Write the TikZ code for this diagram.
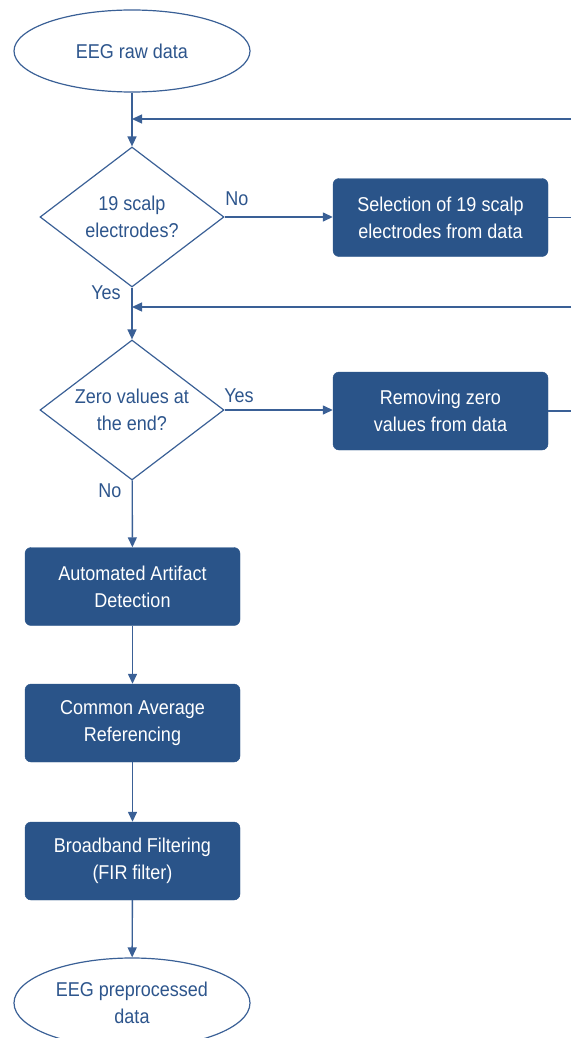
\documentclass[tikz,border=0pt]{standalone}
\usepackage{fontspec}
\setmainfont{Liberation Sans}[FakeStretch=0.9]
\usetikzlibrary{shapes.geometric,arrows.meta}
\definecolor{boxblue}{RGB}{42,84,137}
\definecolor{lineblue}{RGB}{58,96,150}
\definecolor{txtblue}{RGB}{45,85,140}
\begin{document}
\begin{tikzpicture}[x=1pt,y=-1pt,
  every node/.style={font=\fontsize{20}{27}\selectfont},
  term/.style={ellipse,draw=lineblue,line width=1.2pt,minimum width=236pt,minimum height=82pt,inner sep=0pt,align=center,text=txtblue},
  dia/.style={diamond,draw=lineblue,line width=1.2pt,minimum width=184pt,minimum height=140pt,inner sep=0pt},
  dtext/.style={align=center,text=txtblue,inner sep=0pt},
  procbox/.style={rectangle,rounded corners=6pt,fill=boxblue,draw=boxblue,minimum width=215pt,minimum height=78pt,align=center,text=white,inner sep=0pt},
  lbl/.style={text=txtblue,inner sep=0pt},
  conn/.style={draw=lineblue,line width=1.4pt},
  arr/.style={conn,-{Triangle[length=10pt,width=9pt]}}
]
\useasboundingbox (0,0) rectangle (571,1038);
\node[term] (e1) at (132,51) {EEG raw data};
\node[dia] (d1) at (132,217) {};
\node[dtext] at (d1) {19 scalp\\electrodes?};
\node[procbox] (b1) at (440.5,217.5) {Selection of 19 scalp\\electrodes from data};
\node[dia] (d2) at (132,410) {};
\node[dtext] at (d2) {Zero values at\\the end?};
\node[procbox] (b2) at (440.5,411) {Removing zero\\values from data};
\node[procbox] (b3) at (132.5,586.5) {Automated Artifact\\Detection};
\node[procbox] (b4) at (132.5,723) {Common Average\\Referencing};
\node[procbox] (b5) at (132.5,861) {Broadband Filtering\\(FIR filter)};
\node[term,minimum height=90pt] (e2) at (132,1003) {EEG preprocessed\\data};

\coordinate (j1) at (132,119);
\coordinate (j2) at (132,307);
\coordinate (r1) at (571,119);
\coordinate (r2) at (571,307);
\coordinate (q1) at (571,217.5);
\coordinate (q2) at (571,411);

\draw[arr] (e1) -- (d1);
\draw[arr] (r1) -- (j1);
\draw[arr] (d1.east) -- (b1.west |- d1.east);
\draw[conn] (b1.east) -- (q1);
\draw[arr] (d1) -- (d2);
\draw[arr] (r2) -- (j2);
\draw[arr] (d2.east) -- (b2.west |- d2.east);
\draw[conn] (b2.east) -- (q2);
\draw[arr] (d2) -- (b3);
\draw[arr] (b3) -- (b4);
\draw[arr] (b4) -- (b5);
\draw[arr] (b5) -- (e2);

\node[lbl] at (237,199) {No};
\node[lbl] at (106,293) {Yes};
\node[lbl] at (239,396) {Yes};
\node[lbl] at (110,491) {No};
\end{tikzpicture}
\end{document}
